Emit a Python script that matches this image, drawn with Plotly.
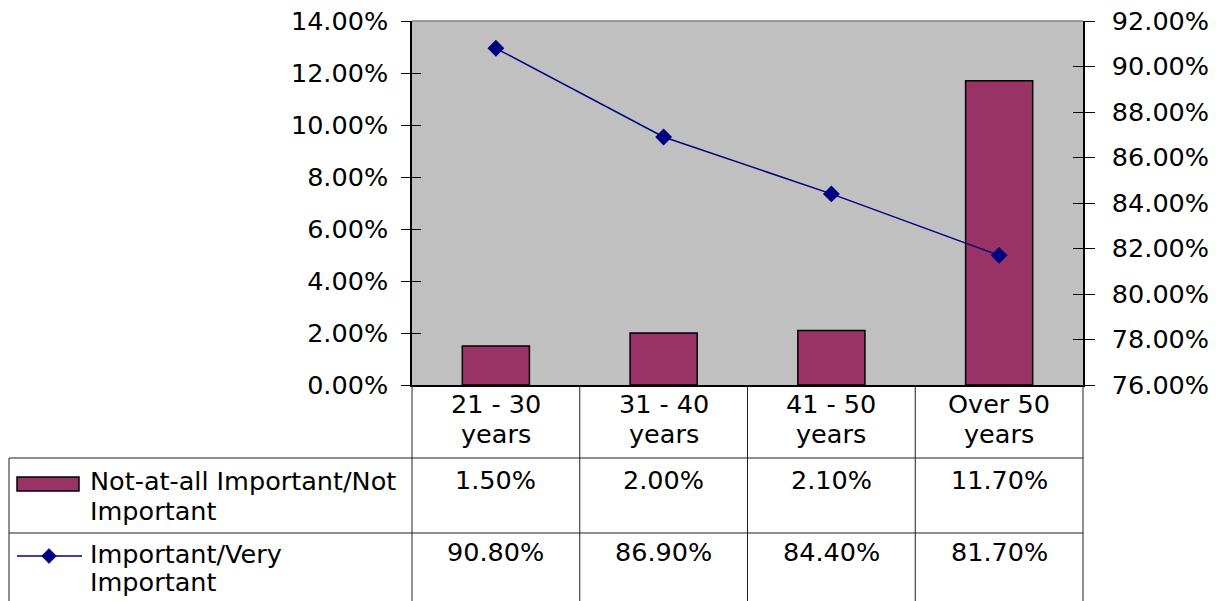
import plotly.graph_objects as go

# Survey results by age group
categories = ["21 - 30 years", "31 - 40 years", "41 - 50 years", "Over 50 years"]
not_important = [1.5, 2.0, 2.1, 11.7]        # Not-at-all Important/Not Important (%)
important = [90.8, 86.9, 84.4, 81.7]         # Important/Very Important (%)
series_names = [["Not-at-all Important/Not", "Important"], ["Important/Very", "Important"]]
header_labels = [["21 - 30", "years"], ["31 - 40", "years"], ["41 - 50", "years"], ["Over 50", "years"]]

W, H = 1216, 601
ML, MR, MT, MB = 412, 133, 21, 216
PW, PH = W - ML - MR, H - MT - MB

BAR_COLOR = "#993366"
LINE_COLOR = "#000080"
FONT = "DejaVu Sans"
FS = 25.5


def px(x):
    """pixel x -> paper x"""
    return (x - ML) / PW


def py(y):
    """pixel y -> paper y"""
    return (H - MB - y) / PH


n = len(categories)
xs = list(range(n))

fig = go.Figure()
fig.add_trace(go.Bar(
    x=xs, y=not_important, width=0.4, name="Not-at-all Important/Not Important",
    marker=dict(color=BAR_COLOR, line=dict(color="black", width=1.5)),
    yaxis="y", showlegend=False,
))
fig.add_trace(go.Scatter(
    x=xs, y=important, mode="lines+markers", name="Important/Very Important",
    line=dict(color=LINE_COLOR, width=1.5),
    marker=dict(symbol="diamond", size=13, color=LINE_COLOR),
    yaxis="y2", showlegend=False,
))

axis_font = dict(family=FONT, size=FS, color="black")
fig.update_layout(
    width=W, height=H,
    margin=dict(l=ML, r=MR, t=MT, b=MB, pad=0, autoexpand=False),
    paper_bgcolor="white", plot_bgcolor="#C0C0C0",
    font=axis_font,
    showlegend=False,
    xaxis=dict(
        range=[-0.5, n - 0.5], showticklabels=False, ticks="",
        showgrid=False, zeroline=False, showline=True, linecolor="black", linewidth=1.5,
        fixedrange=True, automargin=False,
    ),
    yaxis=dict(
        range=[0, 14], dtick=2, tick0=0, ticksuffix="%", tickformat=".2f",
        showgrid=False, zeroline=False, showline=True, linecolor="black", linewidth=1.5,
        ticks="outside", ticklen=9, tickcolor="black", tickwidth=1, tickfont=axis_font,
        ticklabelstandoff=8, automargin=False,
    ),
    yaxis2=dict(
        range=[76, 92], dtick=2, tick0=76, ticksuffix="%", tickformat=".2f",
        overlaying="y", side="right", anchor="x",
        showgrid=False, zeroline=False, showline=True, linecolor="black", linewidth=1.5,
        ticks="outside", ticklen=10, tickcolor="black", tickwidth=1, tickfont=axis_font,
        ticklabelstandoff=12, automargin=False,
    ),
    # inner halves of the crossing tick marks
    yaxis3=dict(
        range=[0, 14], dtick=2, tick0=0, overlaying="y", side="left", anchor="x",
        showticklabels=False, showgrid=False, zeroline=False, showline=False,
        ticks="inside", ticklen=9, tickcolor="black", tickwidth=1,
    ),
    yaxis4=dict(
        range=[76, 92], dtick=2, tick0=76, overlaying="y", side="right", anchor="x",
        showticklabels=False, showgrid=False, zeroline=False, showline=False,
        ticks="inside", ticklen=10, tickcolor="black", tickwidth=1,
    ),
)

# invisible traces so the overlay axes are rendered
fig.add_trace(go.Scatter(x=[None], y=[None], yaxis="y3", showlegend=False, hoverinfo="skip"))
fig.add_trace(go.Scatter(x=[None], y=[None], yaxis="y4", showlegend=False, hoverinfo="skip"))

shapes = []
grid = dict(color="#202020", width=1)

# top edge of the plot area
shapes.append(dict(type="line", xref="paper", yref="paper", x0=0, x1=1, y0=1, y1=1,
                   line=dict(color="#808080", width=1.5)))

# data table grid
row_lines = [458, 533]
table_left = 9
table_bottom = H + 5
for ry in row_lines:
    shapes.append(dict(type="line", xref="paper", yref="paper",
                       x0=px(table_left), x1=1, y0=py(ry), y1=py(ry), line=grid))
shapes.append(dict(type="line", xref="paper", yref="paper",
                   x0=px(table_left), x1=px(table_left), y0=py(row_lines[0]), y1=py(table_bottom),
                   line=grid))
for i in range(1, n + 1):
    xb = i / n
    shapes.append(dict(type="line", xref="paper", yref="paper",
                       x0=xb, x1=xb, y0=0, y1=py(table_bottom), line=grid))
shapes.append(dict(type="line", xref="paper", yref="paper",
                   x0=0, x1=0, y0=0, y1=py(table_bottom), line=grid))

# legend keys inside the table
shapes.append(dict(type="rect", xref="paper", yref="paper",
                   x0=px(17), x1=px(79), y0=py(491), y1=py(477),
                   fillcolor=BAR_COLOR, line=dict(color="black", width=1.5)))
key_y = 556
shapes.append(dict(type="line", xref="paper", yref="paper",
                   x0=px(17), x1=px(82), y0=py(key_y), y1=py(key_y),
                   line=dict(color=LINE_COLOR, width=1.5)))
cx, r = 49, 7.5
diamond = (f"M {px(cx - r)} {py(key_y)} L {px(cx)} {py(key_y - r)} "
           f"L {px(cx + r)} {py(key_y)} L {px(cx)} {py(key_y + r)} Z")
shapes.append(dict(type="path", xref="paper", yref="paper", path=diamond,
                   fillcolor=LINE_COLOR, line=dict(color=LINE_COLOR, width=0.5)))

fig.update_layout(shapes=shapes)

ann = []
cell_font = dict(family=FONT, size=FS, color="black")


def cell_text(x, ymid, text, xanchor="center"):
    ann.append(dict(xref="paper", yref="paper", x=x, y=py(ymid), text=text,
                    showarrow=False, xanchor=xanchor, yanchor="middle", font=cell_font))


header_rows = [404, 434]
for i in range(n):
    xc = (i + 0.5) / n
    for line, ymid in zip(header_labels[i], header_rows):
        cell_text(xc, ymid, line)
    cell_text(xc, 480, f"{not_important[i]:.2f}%")
    cell_text(xc, 552, f"{important[i]:.2f}%")

legend_rows = [[481, 511], [554, 582]]
for lines, rows in zip(series_names, legend_rows):
    for line, ymid in zip(lines, rows):
        cell_text(px(88), ymid, line, xanchor="left")

fig.update_layout(annotations=ann)

fig.write_html("out.html")
